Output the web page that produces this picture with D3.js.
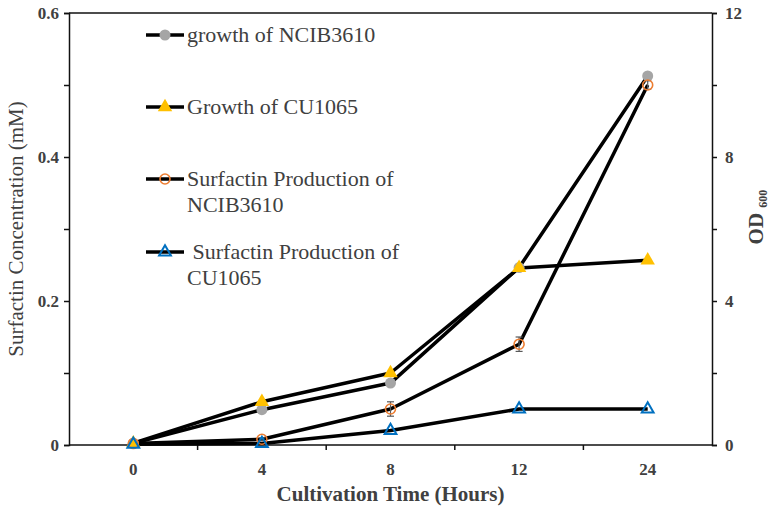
<!DOCTYPE html>
<html>
<head>
<meta charset="utf-8">
<script src="https://cdn.jsdelivr.net/npm/d3@7"></script>
<style>
  body { margin: 0; background: #fff; }
</style>
</head>
<body>
<script>
// values
var times = ["0", "4", "8", "12", "24"];
var growthNCIB = [0.05, 0.98, 1.72, 4.93, 10.25];   // OD600, right axis
var growthCU = [0.05, 1.2, 2.0, 4.92, 5.13];        // OD600, right axis
var surfNCIB = [0.002, 0.008, 0.05, 0.14, 0.5];     // mM, left axis
var surfNCIBErr = [0, 0.002, 0.01, 0.01, 0.006];
var surfCU = [0.001, 0.002, 0.02, 0.05, 0.05];      // mM, left axis
var leftTicks = [0, 0.2, 0.4, 0.6];
var rightTicks = [0, 4, 8, 12];

var width = 772, height = 513;
var m = { left: 69, right: 60, top: 13, bottom: 68 };
var serif = "Liberation Serif";

var svg = d3.select("body").append("svg")
    .attr("width", width)
    .attr("height", height)
    .attr("font-family", serif);

var x = d3.scaleBand().domain(times).range([m.left, width - m.right]);
var yL = d3.scaleLinear().domain([0, 0.6]).range([height - m.bottom, m.top]);
var yR = d3.scaleLinear().domain([0, 12]).range([height - m.bottom, m.top]);
var cx = function(i) { return x(times[i]) + x.bandwidth() / 2; };

var axisColor = "#111";
var labelColor = "#404040";

// top border
svg.append("line")
    .attr("x1", m.left).attr("x2", width - m.right)
    .attr("y1", m.top).attr("y2", m.top)
    .attr("stroke", axisColor).attr("stroke-width", 1.5);

// x axis: ticks on band edges, labels at band centres
var xAxis = svg.append("g")
    .attr("transform", "translate(0," + (height - m.bottom) + ")");
xAxis.append("line")
    .attr("x1", m.left).attr("x2", width - m.right)
    .attr("stroke", axisColor).attr("stroke-width", 1.5);
xAxis.selectAll(".tk").data(times.slice(1)).enter().append("line")
    .attr("x1", function(d) { return x(d); }).attr("x2", function(d) { return x(d); })
    .attr("y1", 0).attr("y2", 5)
    .attr("stroke", axisColor).attr("stroke-width", 1.5);
xAxis.selectAll(".lb").data(times).enter().append("text")
    .attr("x", function(d, i) { return cx(i); })
    .attr("y", 30)
    .attr("text-anchor", "middle")
    .attr("font-family", serif)
    .attr("font-size", 17).attr("font-weight", "bold")
    .attr("fill", labelColor)
    .text(function(d) { return d; });

// left axis
var gL = svg.append("g").attr("transform", "translate(" + m.left + ",0)");
gL.call(d3.axisLeft(yL).tickValues(d3.range(0, 0.61, 0.1)).tickSize(5).tickFormat(""));
gL.attr("font-family", serif);
gL.select(".domain").attr("stroke", axisColor).attr("stroke-width", 1.5);
gL.selectAll(".tick line").attr("stroke", axisColor).attr("stroke-width", 1.5);
gL.selectAll(".lbl").data(leftTicks).enter().append("text")
    .attr("x", -10).attr("y", function(d) { return yL(d) + 6; })
    .attr("text-anchor", "end")
    .attr("font-size", 17).attr("font-weight", "bold")
    .attr("fill", labelColor)
    .text(function(d) { return d === 0 ? "0" : d3.format(".1f")(d); });

// right axis
var gR = svg.append("g").attr("transform", "translate(" + (width - m.right) + ",0)");
gR.call(d3.axisRight(yR).tickValues(d3.range(0, 12.1, 2)).tickSize(5).tickFormat(""));
gR.attr("font-family", serif);
gR.select(".domain").attr("stroke", axisColor).attr("stroke-width", 1.5);
gR.selectAll(".tick line").attr("stroke", axisColor).attr("stroke-width", 1.5);
gR.selectAll(".lbl").data(rightTicks).enter().append("text")
    .attr("x", 13).attr("y", function(d) { return yR(d) + 6; })
    .attr("text-anchor", "start")
    .attr("font-size", 17).attr("font-weight", "bold")
    .attr("fill", labelColor)
    .text(function(d) { return d; });

// axis titles
svg.append("text")
    .attr("transform", "translate(23,229) rotate(-90)")
    .attr("text-anchor", "middle")
    .attr("font-size", 21)
    .attr("fill", labelColor)
    .text("Surfactin Concentration (mM)");

svg.append("text")
    .attr("x", cx(2)).attr("y", 501)
    .attr("text-anchor", "middle")
    .attr("font-size", 21).attr("font-weight", "bold")
    .attr("fill", labelColor)
    .text("Cultivation Time (Hours)");

var od = svg.append("text")
    .attr("transform", "translate(763,217) rotate(-90)")
    .attr("text-anchor", "middle")
    .attr("font-size", 21).attr("font-weight", "bold")
    .attr("fill", labelColor);
od.append("tspan").text("OD ");
od.append("tspan").attr("font-size", 12).attr("dy", 4).text("600");

// series
var series = [
  { name: "growth of NCIB3610", vals: growthNCIB, y: yR, shape: "circle", fill: "#a5a5a5", stroke: "none" },
  { name: "Growth of CU1065", vals: growthCU, y: yR, shape: "triangle", fill: "#ffc000", stroke: "none" },
  { name: "Surfactin Production of\nNCIB3610", vals: surfNCIB, err: surfNCIBErr, y: yL, shape: "circle", fill: "none", stroke: "#ed7d31" },
  { name: " Surfactin Production of\nCU1065", vals: surfCU, y: yL, shape: "triangle", fill: "none", stroke: "#0070c0" }
];

var line = d3.line();

series.forEach(function(s) {
  svg.append("path")
      .attr("d", line(s.vals.map(function(v, i) { return [cx(i), s.y(v)]; })))
      .attr("fill", "none").attr("stroke", "#000").attr("stroke-width", 3.5)
      .attr("stroke-linejoin", "round");
});

function marker(g, s, px, py) {
  if (s.shape === "circle") {
    g.append("circle").attr("cx", px).attr("cy", py).attr("r", s.stroke === "none" ? 5.5 : 5)
        .attr("fill", s.fill).attr("stroke", s.stroke).attr("stroke-width", 1.6);
  } else {
    var filled = s.stroke === "none";
    g.append("path")
        .attr("transform", "translate(" + px + "," + py + ")")
        .attr("d", d3.symbol(d3.symbolTriangle, filled ? 90 : 60)())
        .attr("fill", s.fill).attr("stroke", s.stroke).attr("stroke-width", 2);
  }
}

series.forEach(function(s) {
  var g = svg.append("g");
  if (s.err) {
    s.vals.forEach(function(v, i) {
      if (!s.err[i]) return;
      var y0 = s.y(v - s.err[i]), y1 = s.y(v + s.err[i]), px = cx(i);
      g.append("line").attr("x1", px).attr("x2", px).attr("y1", y0).attr("y2", y1)
          .attr("stroke", "#595959").attr("stroke-width", 1.2);
      [y0, y1].forEach(function(yy) {
        g.append("line").attr("x1", px - 3.5).attr("x2", px + 3.5).attr("y1", yy).attr("y2", yy)
            .attr("stroke", "#595959").attr("stroke-width", 1.2);
      });
    });
  }
  s.vals.forEach(function(v, i) { marker(g, s, cx(i), s.y(v)); });
});

// legend
var legendY = [35, 107, 179, 252];
series.forEach(function(s, k) {
  var g = svg.append("g");
  var ly = legendY[k];
  g.append("line").attr("x1", 146).attr("x2", 184).attr("y1", ly).attr("y2", ly)
      .attr("stroke", "#000").attr("stroke-width", 3.5);
  marker(g, s, 165, ly);
  var t = g.append("text")
      .attr("x", 187).attr("y", ly + 7)
      .attr("font-size", 22)
      .attr("fill", "#404040")
      .attr("xml:space", "preserve")
      .style("white-space", "pre");
  s.name.split("\n").forEach(function(part, j) {
    t.append("tspan").attr("x", 187).attr("dy", j ? 26 : 0).text(part);
  });
});
</script>
</body>
</html>
